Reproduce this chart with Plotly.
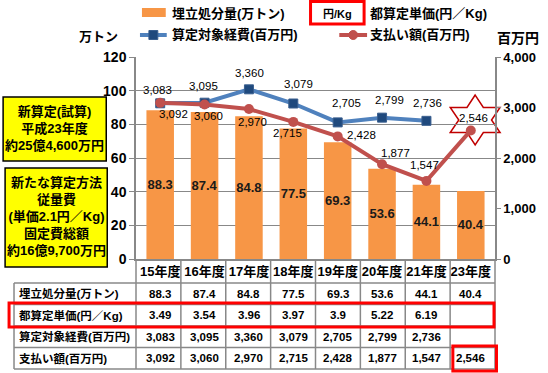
import plotly.graph_objects as go
import math

# ---------------- data ----------------
categories = ['15年度', '16年度', '17年度', '18年度', '19年度', '20年度', '21年度', '23年度']
landfill = [88.3, 87.4, 84.8, 77.5, 69.3, 53.6, 44.1, 40.4]          # 埋立処分量(万トン)
unit_price = [3.49, 3.54, 3.96, 3.97, 3.9, 5.22, 6.19, None]          # 都算定単価(円／Kg)
cost = [3083, 3095, 3360, 3079, 2705, 2799, 2736, None]               # 算定対象経費(百万円)
payment = [3092, 3060, 2970, 2715, 2428, 1877, 1547, 2546]            # 支払い額(百万円)
left_ticks = [0, 20, 40, 60, 80, 100, 120]
right_ticks = [0, 1000, 2000, 3000, 4000]
row_labels = ['埋立処分量(万トン)', '都算定単価(円／Kg)', '算定対象経費(百万円)', '支払い額(百万円)']
legend_labels = ['埋立処分量(万トン)', '算定対象経費(百万円)', '都算定単価(円／Kg)', '支払い額(百万円)']
box1_lines = ['新算定(試算)', '平成23年度', '約25億4,600万円']
box2_lines = ['新たな算定方法', '従量費', '(単価2.1円／Kg)', '固定費総額', '約16億9,700万円']

# ---------------- layout helpers ----------------
W, H = 548, 373
L, R, T, B = 136, 50, 57, 114
PW, PH = W - L - R, H - T - B
FONT = 'Liberation Sans, Noto Sans CJK JP'
ORANGE = '#F79646'
BLUE = '#4F81BD'
BLUE_D = '#1F497D'
RED = '#C0504D'
GRID = '#888888'

# label offsets (pixels) of the data labels relative to their points
cost_shift = [(-3, 13), (-1, 17), (1, 16), (5, 20), (9, 19), (7, 18), (1, 18), (0, 0)]
pay_shift = [(13, -11), (4, -12), (4, -13), (-6, -11), (24, 1), (13, 11), (-2, 16), (3, 12)]


def px(x):
    return (x - L) / PW


def py(y):
    return 1 - (y - T) / PH


def fmt(v):
    if v is None:
        return ''
    if isinstance(v, int):
        return f'{v:,}'
    return str(v)


fig = go.Figure()

fig.add_trace(go.Bar(
    x=categories, y=landfill, marker=dict(color=ORANGE, line=dict(width=0)),
    text=[str(v) for v in landfill], textposition='inside', insidetextanchor='middle',
    textangle=0, textfont=dict(family=FONT, size=13, color='#1a1a1a', weight='bold'),
    showlegend=False, cliponaxis=False))

fig.add_trace(go.Scatter(
    x=categories, y=cost, yaxis='y2', mode='lines+markers',
    line=dict(color=BLUE, width=4),
    marker=dict(symbol='square', size=9, color=BLUE_D, line=dict(color='#3a5f8f', width=1)),
    showlegend=False, cliponaxis=False))

fig.add_trace(go.Scatter(
    x=categories, y=payment, yaxis='y2', mode='lines+markers',
    line=dict(color=RED, width=4),
    marker=dict(symbol='circle', size=10, color=RED),
    showlegend=False, cliponaxis=False))

shapes = []
ann = []

# data labels, anchored on the data points via the axes
for i, v in enumerate(cost):
    if v is None:
        continue
    dx, dy = cost_shift[i]
    ann.append(dict(xref='x', yref='y2', x=i, y=v, xshift=dx, yshift=dy, text=fmt(v),
                    showarrow=False, xanchor='center', yanchor='middle',
                    font=dict(family=FONT, size=11.5, color='#000')))
for i, v in enumerate(payment):
    dx, dy = pay_shift[i]
    ann.append(dict(xref='x', yref='y2', x=i, y=v, xshift=dx, yshift=dy, text=fmt(v),
                    showarrow=False, xanchor='center', yanchor='middle',
                    font=dict(family=FONT, size=11.5, color='#000')))

# six-pointed star decoration (page pixels -> paper coordinates)
SCX, SCY = 478, 120
pts = []
for k in range(12):
    ang = math.radians(90 + 30 * k)
    if k % 2 == 0:
        rx, ry = 29, 25
    else:
        rx, ry = 16.5, 14.4
    pts.append((px(SCX + rx * math.cos(ang)), py(SCY - ry * math.sin(ang))))
path = 'M ' + ' L '.join(f'{a:.5f},{b:.5f}' for a, b in pts) + ' Z'
shapes.append(dict(type='path', xref='paper', yref='paper', path=path,
                   fillcolor='white', line=dict(color='#C00000', width=1.5), layer='below'))

# table lines
tcol = [L + k * PW / len(categories) for k in range(len(categories) + 1)]
rows_y = [283, 304.5, 326, 347.5, 369]
for yy in rows_y:
    shapes.append(dict(type='line', xref='paper', yref='paper', x0=px(13), x1=px(L + PW),
                       y0=py(yy), y1=py(yy), line=dict(color=GRID, width=1.5)))
shapes.append(dict(type='line', xref='paper', yref='paper', x0=px(13), x1=px(13),
                   y0=py(283), y1=py(369), line=dict(color=GRID, width=1.5)))
for xx in tcol:
    shapes.append(dict(type='line', xref='paper', yref='paper', x0=px(xx), x1=px(xx),
                       y0=py(T + PH), y1=py(369), line=dict(color=GRID, width=1.5)))

# red highlight boxes
shapes.append(dict(type='rect', xref='paper', yref='paper', x0=px(8), x1=px(497),
                   y0=py(303), y1=py(327), line=dict(color='#FF0000', width=3)))
shapes.append(dict(type='rect', xref='paper', yref='paper', x0=px(455.5), x1=px(499.5),
                   y0=py(346), y1=py(371), line=dict(color='#FF0000', width=3)))

# table text
row_cent = [293.5, 315, 336.5, 358]
series = [landfill, unit_price, cost, payment]
for lab, yc, vals in zip(row_labels, row_cent, series):
    ann.append(dict(xref='paper', yref='paper', x=px(16), y=py(yc), xanchor='left', yanchor='middle',
                    text=lab, showarrow=False,
                    font=dict(family=FONT, size=11.5, color='#000', weight='bold')))
    for i, v in enumerate(vals):
        ann.append(dict(xref='x', yref='paper', x=i, y=py(yc), xanchor='center', yanchor='middle',
                        text=fmt(v), showarrow=False,
                        font=dict(family=FONT, size=11.5, color='#000', weight='bold')))

# yellow boxes
shapes.append(dict(type='rect', xref='paper', yref='paper', x0=px(2), x1=px(106),
                   y0=py(97), y1=py(161), fillcolor='#FFFF00', line=dict(color='#000', width=1.5)))
shapes.append(dict(type='rect', xref='paper', yref='paper', x0=px(4), x1=px(107),
                   y0=py(168), y1=py(267), fillcolor='#FFFF00', line=dict(color='#000', width=1.5)))
ann.append(dict(xref='paper', yref='paper', x=px(54), y=py(128), xanchor='center', yanchor='middle',
                text='<br>'.join(box1_lines), showarrow=False,
                font=dict(family=FONT, size=13, color='#000', weight='bold')))
ann.append(dict(xref='paper', yref='paper', x=px(55.5), y=py(216.5), xanchor='center', yanchor='middle',
                text='<br>'.join(box2_lines), showarrow=False,
                font=dict(family=FONT, size=13, color='#000', weight='bold')))

# manual legend
shapes.append(dict(type='rect', xref='paper', yref='paper', x0=px(142), x1=px(166),
                   y0=py(8), y1=py(17), fillcolor=ORANGE, line=dict(width=0)))
shapes.append(dict(type='line', xref='paper', yref='paper', x0=px(140), x1=px(167),
                   y0=py(35), y1=py(35), line=dict(color=BLUE, width=4)))
shapes.append(dict(type='rect', xref='paper', yref='paper', x0=px(149), x1=px(158),
                   y0=py(30.5), y1=py(39.5), fillcolor=BLUE_D, line=dict(color='#3a5f8f', width=1)))
shapes.append(dict(type='line', xref='paper', yref='paper', x0=px(341), x1=px(369),
                   y0=py(35), y1=py(35), line=dict(color=RED, width=4)))
shapes.append(dict(type='circle', xref='paper', yref='paper', x0=px(350.5), x1=px(359.5),
                   y0=py(30.5), y1=py(39.5), fillcolor=RED, line=dict(color=RED, width=1)))
shapes.append(dict(type='rect', xref='paper', yref='paper', x0=px(312), x1=px(366),
                   y0=py(1.5), y1=py(24), line=dict(color='#FF0000', width=3)))
ann.append(dict(xref='paper', yref='paper', x=px(339), y=py(13.5), xanchor='center', yanchor='middle',
                text='円/Kg', showarrow=False,
                font=dict(family=FONT, size=11, color='#000', weight='bold')))
leg_pos = [(170, 13), (170, 35), (370, 13), (370, 35)]
for t, (xx, yy) in zip(legend_labels, leg_pos):
    ann.append(dict(xref='paper', yref='paper', x=px(xx), y=py(yy), xanchor='left', yanchor='middle',
                    text=t, showarrow=False,
                    font=dict(family=FONT, size=13, color='#000', weight='bold')))

# axis titles
ann.append(dict(xref='paper', yref='paper', x=px(98), y=py(37), xanchor='center', yanchor='middle',
                text='万トン', showarrow=False, font=dict(family=FONT, size=13, color='#000', weight='bold')))
ann.append(dict(xref='paper', yref='paper', x=px(521), y=py(38), xanchor='center', yanchor='middle',
                text='百万円', showarrow=False, font=dict(family=FONT, size=14, color='#000', weight='bold')))

fig.update_layout(
    width=W, height=H, margin=dict(l=L, r=R, t=T, b=B, pad=0),
    paper_bgcolor='white', plot_bgcolor='white', bargap=0.38,
    uniformtext=dict(minsize=13, mode='show'),
    xaxis=dict(type='category', showgrid=False, showline=True, linecolor=GRID, linewidth=1.5,
               ticks='', tickfont=dict(family=FONT, size=13, color='#000', weight='bold'),
               zeroline=False),
    yaxis=dict(range=[0, 120], tickvals=left_ticks, showgrid=True, gridcolor=GRID, gridwidth=1,
               showline=True, linecolor=GRID, linewidth=1.5, ticks='outside', ticklen=5,
               tickcolor=GRID, tickfont=dict(family=FONT, size=14, color='#000', weight='bold'),
               zeroline=False),
    yaxis2=dict(range=[0, 4000], tickvals=right_ticks, tickformat=',', overlaying='y', side='right',
                showgrid=False, showline=True, linecolor=GRID, linewidth=1.5, ticks='outside',
                ticklen=4, tickcolor=GRID, zeroline=False,
                tickfont=dict(family=FONT, size=13, color='#000', weight='bold')),
    shapes=shapes, annotations=ann, showlegend=False,
)

fig.write_html('out.html', config={'displayModeBar': False},
               post_script="document.body.style.margin='0px';")
